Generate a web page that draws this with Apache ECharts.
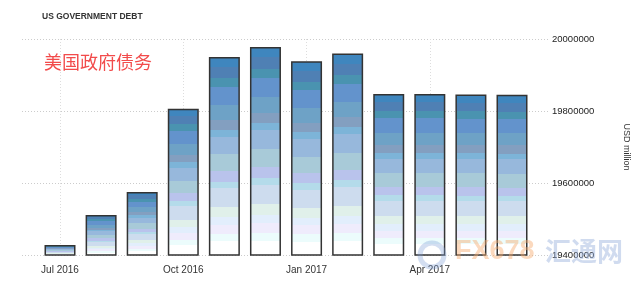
<!DOCTYPE html>
<html><head><meta charset="utf-8">
<script src="https://cdn.jsdelivr.net/npm/echarts@6/dist/echarts.min.js"></script>
<style>html,body{margin:0;padding:0;background:#fff}#c{width:640px;height:292px}</style>
</head><body><div id="c"></div>
<script>
const months = ['Jul 2016','Aug 2016','Sep 2016','Oct 2016','Nov 2016','Dec 2016','Jan 2017','Feb 2017','Mar 2017','Apr 2017','May 2017','Jun 2017'];
const debt = [19428000, 19511000, 19575000, 19806000, 19950000, 19978000, 19938000, 19960000, 19847000, 19847000, 19846000, 19845000];
const tickLabels = ['Jul 2016','Oct 2016','Jan 2017','Apr 2017'];
const yTicks = [19400000, 19600000, 19800000, 20000000];

const tickIdx = tickLabels.map(t => months.indexOf(t));
const bands = [
  [0, 0.05, '#3f86be'], [0.05, 0.105, '#4f80b4'], [0.105, 0.15, '#4a93b0'],
  [0.15, 0.24, '#6393cc'], [0.24, 0.315, '#6ea2c6'], [0.315, 0.365, '#839fc0'],
  [0.365, 0.40, '#7db4d8'], [0.40, 0.49, '#97b8dc'], [0.49, 0.576, '#a8cad8'],
  [0.576, 0.627, '#b9c3ec'], [0.627, 0.66, '#b4dbea'], [0.66, 0.754, '#cddcee'],
  [0.754, 0.805, '#e0f0ea'], [0.805, 0.844, '#e2eefc'], [0.844, 0.89, '#efecfc'],
  [0.89, 0.927, '#ecfcfc'], [0.927, 1, '#ffffff']
];
const stops = [];
bands.forEach(b => { stops.push({offset:b[0], color:b[2]}); stops.push({offset:b[1], color:b[2]}); });

const chart = echarts.init(document.getElementById('c'), null, {renderer:'canvas'});
chart.setOption({
  animation:false,
  title:{text:'US GOVERNMENT DEBT', left:42, top:12, padding:0, textStyle:{fontSize:8.5, fontWeight:'bold', color:'#333', fontFamily:'Liberation Sans'}},
  graphic:[
    {type:'text', left:44, top:53, style:{text:'美国政府债务', fill:'#f24b4b', font:'18px "Noto Sans CJK SC"'}},
    {type:'circle', shape:{cx:432, cy:255, r:12}, z:100, style:{fill:'none', stroke:'rgba(130,160,215,0.35)', lineWidth:5}},
    {type:'text', left:455, top:238, z:100, style:{text:'FX678', fill:'rgba(247,170,110,0.45)', font:'bold 27px "Liberation Sans"'}},
    {type:'text', left:545, top:238, z:100, style:{text:'汇通网', fill:'rgba(150,175,220,0.45)', font:'bold 26px "Noto Sans CJK SC"'}}
  ],
  grid:{left:22, right:92, top:39, bottom:37},
  xAxis:{
    type:'value',
    min:-0.925, max:11.876,
    axisLine:{show:false},
    axisTick:{show:false, customValues:tickIdx},
    axisLabel:{color:'#333', fontSize:10, margin:10, customValues:tickIdx,
      formatter:function(v){ return months[Math.round(v)] || ''; }},
    splitLine:{show:true, lineStyle:{color:'#ddd', type:[1,2], width:1}}
  },
  yAxis:{
    type:'value', position:'right',
    min:yTicks[0], max:yTicks[yTicks.length-1], interval:200000,
    name:'USD million', nameLocation:'middle', nameRotate:-90, nameGap:74,
    nameTextStyle:{fontSize:9, color:'#333'},
    axisLine:{show:false}, axisTick:{show:false},
    axisLabel:{color:'#222', fontSize:9.5, margin:4, fontFamily:'Liberation Sans', formatter:v=>String(v)},
    splitLine:{show:true, lineStyle:{color:'#ccc', type:[1,2], width:1}}
  },
  series:[{
    type:'bar',
    barWidth:31,
    data: debt.map((v,i)=>[i, v]),
    itemStyle:{
      borderColor:'#333', borderWidth:1.5,
      color:new echarts.graphic.LinearGradient(0,0,0,1,stops)
    }
  }]
});
</script></body></html>
